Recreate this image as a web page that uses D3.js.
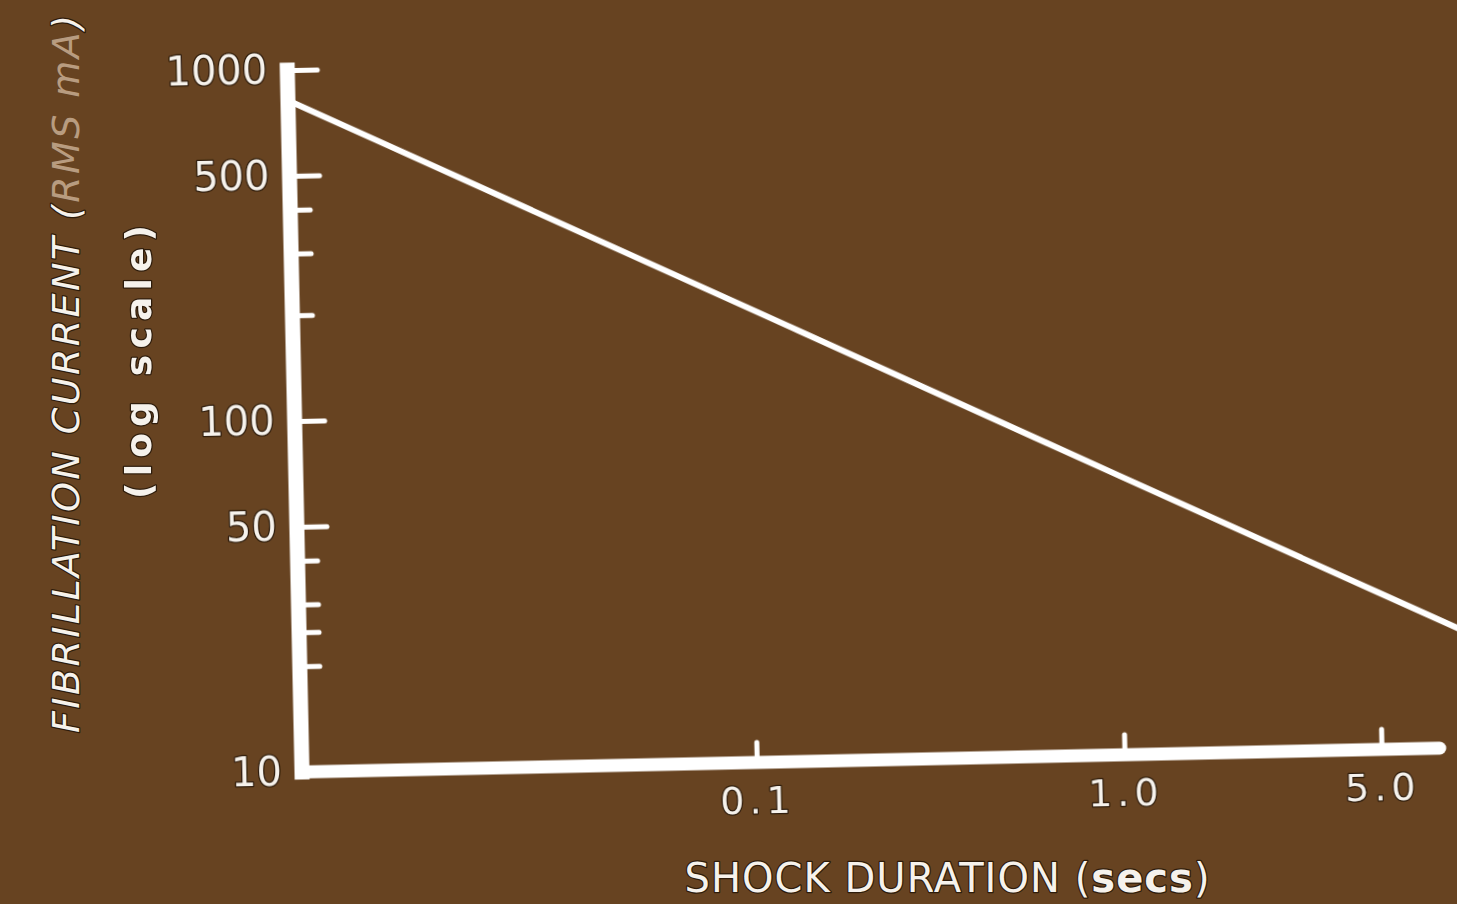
<!DOCTYPE html>
<html>
<head>
<meta charset="utf-8">
<script src="https://cdn.jsdelivr.net/npm/d3@7"></script>
<style>
  html, body { margin: 0; padding: 0; background: #674321; overflow: hidden; }
  svg { display: block; }
  text { font-family: "DejaVu Sans", sans-serif; fill: #f6f2ec;
         paint-order: stroke; stroke: #2e1c0b; stroke-width: 2.5px; stroke-linejoin: round; }
</style>
</head>
<body>
<svg id="chart" width="1457" height="904"></svg>
<script>
// Shock duration (s) against the current (RMS mA) that triggers fibrillation
const durations = [0.0058, 0.01, 0.1, 1.0, 5.0, 8.5];
const currents  = [820, 625, 198, 62.5, 28, 21.5];

// Axis ticks
const yMajorTicks = [10, 50, 100, 500, 1000];
const yMinorTicks = [20, 25, 30, 40, 200, 300, 400];
const xTicks = [0.1, 1.0, 5.0];
const xTickLabels = ["0.1", "1.0", "5.0"];

const svg = d3.select("#chart");
svg.append("rect").attr("width", 1457).attr("height", 904).attr("fill", "#674321");

const soft = svg.append("defs").append("filter").attr("id", "soft");
soft.append("feGaussianBlur").attr("stdDeviation", 0.6);

// plot frame, origin at the lower-left corner of the axes; the scanned chart sits slightly tilted
const plotW = 1138, plotH = 702;
const g = svg.append("g")
  .attr("transform", "translate(302,772) rotate(-1.2)")
  .attr("filter", "url(#soft)");

const x = d3.scaleLog().domain([0.0058, 7.2]).range([0, plotW]);
const y = d3.scaleLog().domain([10, 1000]).range([0, -plotH]);

// axis lines
g.append("line")
  .attr("x1", 0).attr("x2", 0).attr("y1", y(10)).attr("y2", y(1000))
  .attr("stroke", "#fff").attr("stroke-width", 15).attr("stroke-linecap", "square");
g.append("line")
  .attr("x1", 0).attr("x2", plotW).attr("y1", 0).attr("y2", 0)
  .attr("stroke", "#fff").attr("stroke-width", 13).attr("stroke-linecap", "round");

function styleAxis(sel) {
  sel.select(".domain").remove();
  sel.selectAll(".tick line").attr("stroke", "#fff").attr("stroke-width", 5).attr("stroke-linecap", "round");
  sel.selectAll(".tick text").attr("fill", null).attr("font-family", null);
}

// y axis: ticks point right, labels on the left
g.append("g")
  .call(d3.axisLeft(y).tickValues(yMinorTicks).tickSizeInner(-20).tickSizeOuter(0).tickFormat(""))
  .call(styleAxis);
g.append("g")
  .call(d3.axisLeft(y).tickValues(yMajorTicks).tickSizeInner(-30).tickSizeOuter(0)
        .tickPadding(20).tickFormat(d3.format("d")))
  .call(styleAxis)
  .call(s => s.selectAll(".tick text").attr("font-size", 40));

// x axis: ticks point up, labels below
g.append("g")
  .call(d3.axisBottom(x).tickValues(xTicks).tickSizeInner(-20).tickSizeOuter(0)
        .tickPadding(24).tickFormat((d, i) => xTickLabels[i]))
  .call(styleAxis)
  .call(s => s.selectAll(".tick text").attr("font-size", 38).attr("letter-spacing", 5));

// threshold line
const line = d3.line().x(d => x(d[0])).y(d => y(d[1]));
g.append("path")
  .datum(d3.zip(durations, currents))
  .attr("d", line)
  .attr("fill", "none").attr("stroke", "#fff").attr("stroke-width", 6);

// axis titles
const yTitle = svg.append("text")
  .attr("transform", "translate(79,374) rotate(-90)")
  .attr("text-anchor", "middle")
  .attr("font-size", 38).attr("font-style", "italic")
  .attr("textLength", 718).attr("lengthAdjust", "spacing");
yTitle.append("tspan").text("FIBRILLATION CURRENT (");
yTitle.append("tspan").attr("fill", "#b89c80").attr("stroke", "none").text("RMS mA");
yTitle.append("tspan").text(")");

svg.append("text")
  .attr("transform", "translate(151,362) rotate(-90)")
  .attr("text-anchor", "middle")
  .attr("font-size", 36).attr("font-weight", "bold")
  .attr("textLength", 274).attr("lengthAdjust", "spacing")
  .text("(log scale)");

const xTitle = svg.append("text")
  .attr("x", 947).attr("y", 892)
  .attr("text-anchor", "middle")
  .attr("font-size", 40)
  .attr("textLength", 525).attr("lengthAdjust", "spacing");
xTitle.append("tspan").text("SHOCK DURATION (");
xTitle.append("tspan").attr("font-weight", "bold").text("secs");
xTitle.append("tspan").text(")");
</script>
</body>
</html>
